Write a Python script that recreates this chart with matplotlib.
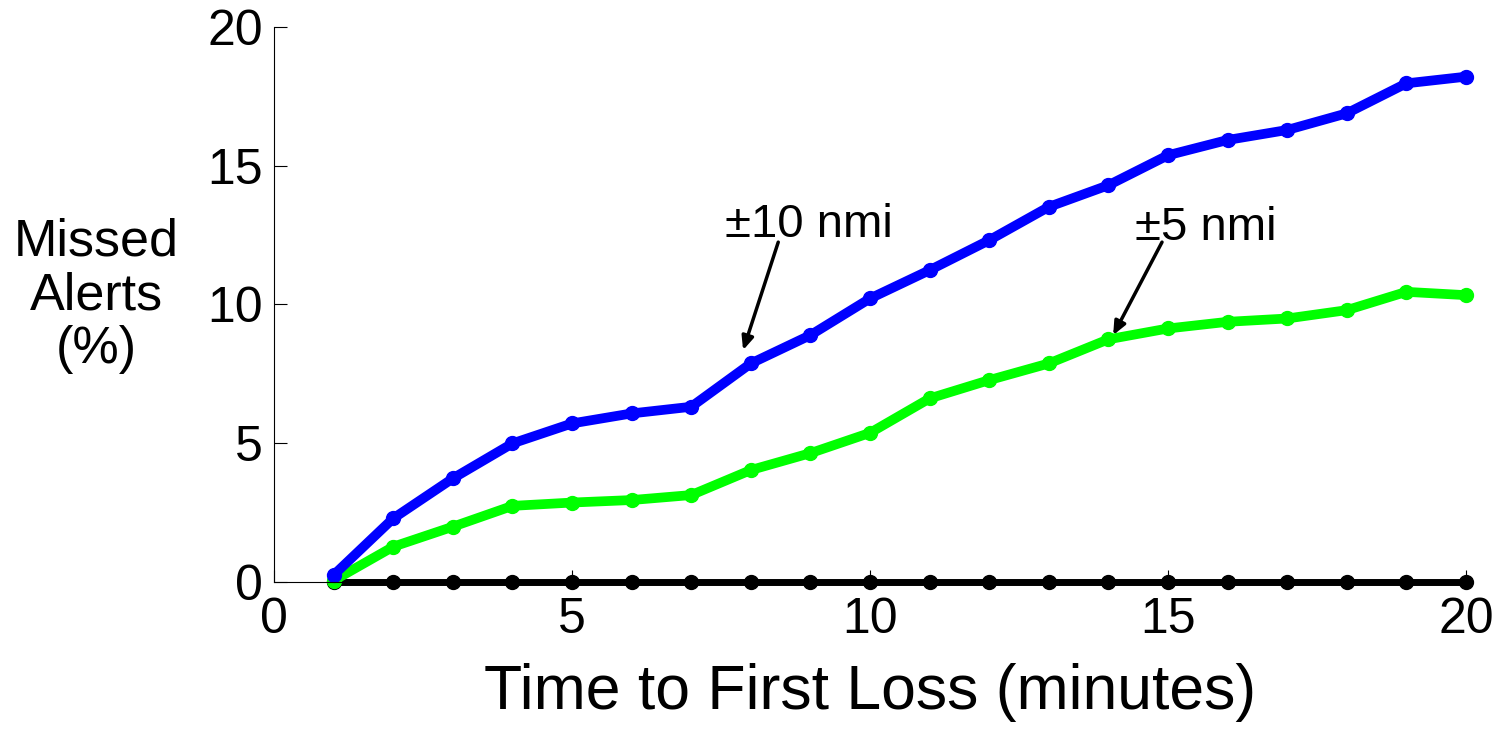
"""Missed alert rate against time to first loss for two position tolerances."""

import matplotlib

matplotlib.use("Agg")
import matplotlib.pyplot as plt

minutes = list(range(1, 21))
missed_10nmi = [0.25, 2.29, 3.73, 4.99, 5.71, 6.07, 6.31, 7.87, 8.89, 10.21,
                11.23, 12.31, 13.51, 14.29, 15.37, 15.92, 16.28, 16.88, 17.96, 18.2]
missed_5nmi = [0.05, 1.27, 1.99, 2.74, 2.86, 2.95, 3.13, 4.03, 4.64, 5.37,
               6.61, 7.27, 7.87, 8.74, 9.13, 9.37, 9.49, 9.79, 10.45, 10.33]
missed_exact = [0.0] * 20

plt.rcParams["font.family"] = ["Liberation Sans", "DejaVu Sans"]

fig = plt.figure(figsize=(15.06, 7.32), dpi=100)
ax = fig.add_axes([0.182, 0.205, 0.7914, 0.7585])

line_kw = dict(marker="o", clip_on=False, solid_joinstyle="round")
ax.plot(minutes, missed_exact, color="black", lw=5, ms=10, **line_kw)
ax.plot(minutes, missed_5nmi, color="#00ff00", lw=7, ms=10, **line_kw)
ax.plot(minutes, missed_10nmi, color="#0000ff", lw=7, ms=10, **line_kw)

ax.set_xlim(0, 20)
ax.set_ylim(0, 20)
ax.set_xticks([0, 5, 10, 15, 20])
ax.set_yticks([0, 5, 10, 15, 20])
ax.spines["top"].set_visible(False)
ax.spines["right"].set_visible(False)
for side in ("left", "bottom"):
    ax.spines[side].set_linewidth(0.8)
ax.tick_params(direction="in", length=9, width=0.8, labelsize=36, pad=8)
ax.tick_params(axis="x", pad=11)

ax.set_xlabel("Time to First Loss (minutes)", fontsize=45, labelpad=14)
ax.set_ylabel("Missed\nAlerts\n(%)", fontsize=37.5, rotation=0,
              ha="center", va="center", linespacing=1.12)
ax.yaxis.set_label_coords(-0.149, 0.515)

arrow = dict(arrowstyle="-|>,head_length=0.8,head_width=0.35", color="black", lw=2.5,
             shrinkA=0, shrinkB=0)
ax.text(7.57, 12.42, "\u00b110 nmi", fontsize=34, ha="left", va="baseline")
ax.annotate("", xy=(7.87, 8.35), xytext=(8.46, 12.24), arrowprops=arrow)
ax.text(14.45, 12.32, "\u00b15 nmi", fontsize=34, ha="left", va="baseline")
ax.annotate("", xy=(14.08, 8.89), xytext=(14.9, 12.24), arrowprops=arrow)

fig.savefig("out.png", dpi=100)
